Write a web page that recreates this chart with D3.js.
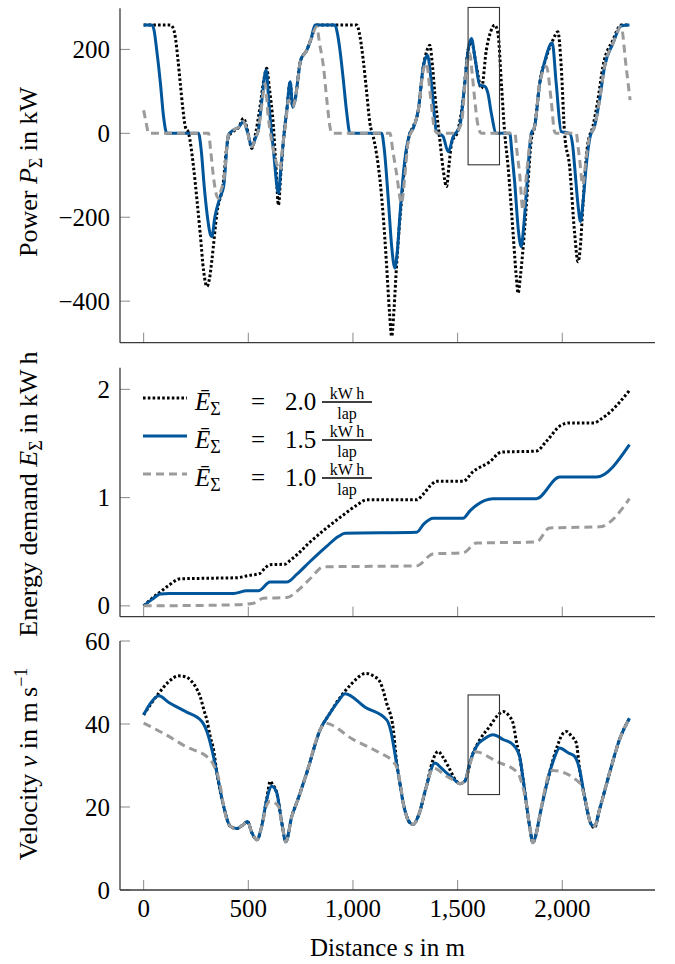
<!DOCTYPE html>
<html><head><meta charset="utf-8">
<script src="https://cdn.jsdelivr.net/npm/d3@7/dist/d3.min.js"></script>
<style>
body{margin:0;background:#fff}
svg text{fill:#000}
</style>
</head><body>
<svg id="chart" width="675" height="964"></svg>
<script>
// ---------- data (distance s in m, value) ----------
const power20 = [[0,258],[127,258],[140,252],[151,230],[163,180],[175,119],[187,60],[199,16],[215,0],[238,-79],[255,-160],[270,-238],[287,-330],[302,-365],[315,-345],[326,-302],[350,-190],[382,-111],[395,-40],[405,-8],[430,5],[455,15],[477,36],[495,10],[517,-36],[535,0],[555,60],[575,130],[588,155],[600,110],[620,16],[632,-80],[644,-171],[656,-90],[668,-16],[685,60],[700,123],[712,63],[723,79],[750,174],[779,198],[800,225],[827,258],[1018,258],[1030,240],[1049,175],[1065,100],[1081,24],[1097,-8],[1113,-50],[1129,-111],[1145,-200],[1161,-317],[1175,-430],[1185,-484],[1196,-420],[1208,-317],[1232,-159],[1256,-40],[1272,0],[1288,16],[1312,55],[1336,159],[1352,195],[1367,210],[1380,160],[1391,95],[1415,-16],[1432,-90],[1447,-127],[1460,-70],[1471,-24],[1502,8],[1526,79],[1550,198],[1566,218],[1590,159],[1614,107],[1637,198],[1660,245],[1677,258],[1693,238],[1709,119],[1725,0],[1741,-79],[1765,-238],[1780,-340],[1789,-381],[1800,-340],[1812,-278],[1836,-119],[1852,-16],[1868,16],[1892,119],[1924,182],[1955,222],[1979,242],[1995,159],[2011,0],[2035,-79],[2059,-238],[2075,-306],[2088,-260],[2098,-175],[2122,-24],[2146,16],[2170,79],[2194,159],[2242,222],[2281,258],[2321,258]];
const power15 = [[0,258],[40,258],[50,245],[62,200],[80,120],[95,40],[111,0],[262,0],[275,-40],[290,-130],[305,-200],[318,-240],[326,-246],[340,-200],[366,-151],[382,-127],[405,-4],[430,8],[455,15],[477,28],[495,5],[517,-32],[535,-10],[548,8],[565,80],[580,143],[585,151],[600,60],[620,-40],[644,-143],[656,-80],[668,-16],[685,60],[700,123],[712,63],[723,79],[750,174],[779,198],[800,225],[819,258],[914,258],[925,240],[940,190],[954,127],[970,50],[986,0],[1137,0],[1150,-40],[1169,-159],[1185,-270],[1200,-321],[1212,-280],[1224,-198],[1248,-63],[1272,0],[1288,12],[1312,55],[1336,159],[1356,186],[1375,119],[1399,4],[1431,-8],[1455,-44],[1479,-8],[1510,16],[1534,119],[1550,198],[1566,226],[1582,183],[1606,115],[1630,112],[1645,95],[1661,48],[1685,0],[1749,0],[1760,-50],[1773,-119],[1790,-230],[1804,-270],[1816,-220],[1828,-143],[1852,0],[1868,16],[1892,119],[1916,171],[1952,216],[1971,119],[1995,4],[2035,0],[2050,-30],[2059,-79],[2075,-170],[2087,-210],[2100,-160],[2114,-79],[2133,-8],[2154,16],[2178,79],[2202,159],[2242,214],[2281,256],[2321,258]];
const power10 = [[0,55],[12,25],[24,0],[310,0],[320,-40],[335,-110],[350,-150],[358,-155],[370,-135],[382,-115],[405,-4],[430,8],[455,15],[477,28],[495,5],[517,-32],[535,-10],[548,8],[565,70],[580,119],[595,40],[620,-40],[652,-87],[662,-40],[680,30],[692,79],[712,63],[723,79],[750,174],[779,198],[800,225],[827,254],[840,215],[859,159],[875,80],[890,16],[898,0],[1177,0],[1190,-40],[1208,-95],[1232,-167],[1248,-100],[1265,-15],[1288,12],[1312,55],[1336,150],[1351,167],[1370,90],[1391,8],[1407,0],[1486,0],[1518,24],[1542,159],[1558,190],[1570,140],[1582,79],[1595,25],[1606,4],[1615,0],[1773,0],[1785,-50],[1796,-95],[1812,-183],[1825,-120],[1836,-63],[1852,0],[1868,16],[1892,119],[1924,159],[1947,79],[1963,4],[1970,0],[2067,0],[2075,-30],[2083,-63],[2098,-123],[2114,-60],[2130,-8],[2154,16],[2178,79],[2202,159],[2242,214],[2281,254],[2305,159],[2324,79]];

const energy20 = [[0,0],[40,0.07],[80,0.13],[120,0.19],[175,0.25],[300,0.255],[445,0.26],[500,0.28],[556,0.30],[580,0.35],[604,0.38],[676,0.385],[700,0.42],[731,0.47],[795,0.59],[874,0.72],[954,0.84],[1018,0.93],[1065,0.98],[1304,0.98],[1335,1.03],[1370,1.11],[1399,1.15],[1526,1.15],[1574,1.24],[1653,1.33],[1709,1.42],[1876,1.43],[1924,1.52],[1995,1.67],[2035,1.69],[2154,1.69],[2180,1.72],[2210,1.76],[2321,1.99]];
const energy15 = [[0,0],[40,0.06],[80,0.11],[120,0.115],[429,0.115],[493,0.14],[548,0.14],[604,0.22],[684,0.22],[731,0.29],[795,0.41],[874,0.55],[930,0.64],[962,0.67],[1304,0.68],[1340,0.76],[1383,0.81],[1526,0.81],[1560,0.88],[1590,0.93],[1669,0.99],[1876,0.99],[1987,1.19],[2162,1.19],[2321,1.49]];
const energy10 = [[0,0],[445,0.01],[525,0.025],[572,0.07],[684,0.077],[747,0.16],[800,0.26],[859,0.36],[1304,0.37],[1383,0.48],[1526,0.49],[1590,0.58],[1876,0.59],[1939,0.72],[2178,0.73],[2321,0.99]];

const velocity20 = [[0,42.2],[30,44.5],[72,47.4],[120,50.2],[167,51.6],[200,51.4],[223,50.6],[250,48.8],[270,46.6],[290,43],[302,41],[318,37],[334,33.8],[350,28.2],[382,20.2],[413,15.4],[445,14.8],[477,15.8],[496,16.5],[517,13.8],[541,12.1],[564,15.4],[588,22],[605,26.2],[615,25.5],[636,23.4],[660,16.2],[679,11.6],[708,17.8],[731,21],[779,28.2],[843,38.6],[890,42.6],[940,46.5],[990,49.5],[1062,52.2],[1100,51.5],[1129,50.2],[1161,45],[1193,38.6],[1208,31],[1222,26.5],[1240,21],[1272,16.2],[1288,15.8],[1312,17.8],[1351,25],[1380,31],[1407,33.4],[1430,32],[1455,29.8],[1490,26.5],[1510,25.6],[1534,26.2],[1570,32.5],[1606,36.2],[1653,39.4],[1690,42],[1717,43],[1745,42],[1765,40.2],[1780,36],[1796,32.2],[1812,27],[1828,21],[1845,15],[1860,11.4],[1875,13.5],[1892,17.8],[1939,28.2],[1975,34.5],[2000,37.5],[2019,38.2],[2045,37],[2067,35.4],[2083,29],[2106,22.6],[2138,15.8],[2154,15],[2178,19.4],[2226,28.2],[2273,36.2],[2321,41.4]];
const velocity15 = [[0,42.2],[30,44.8],[72,46.8],[120,45.2],[200,43],[278,40.6],[310,37],[330,33],[350,28.2],[382,20.2],[413,15.4],[445,14.8],[477,15.8],[496,16.5],[517,13.8],[541,12.1],[564,15.4],[588,21.8],[612,25],[636,23.4],[660,16.2],[679,11.6],[708,17.8],[731,21],[779,28.2],[843,38.6],[890,42.6],[930,45.5],[962,47.3],[1060,44],[1161,41],[1180,38.5],[1200,33],[1220,27],[1240,21],[1272,16.2],[1288,15.8],[1312,17.8],[1351,25],[1391,30.6],[1420,29.5],[1447,28.2],[1480,26.8],[1510,25.6],[1534,26.2],[1560,31],[1590,34.6],[1630,36.5],[1669,37.4],[1720,36.2],[1765,35],[1796,32.2],[1812,27],[1828,21],[1845,15],[1860,11.4],[1875,13.5],[1892,17.8],[1939,28.2],[1960,31.5],[1987,34.2],[2030,33],[2059,32.2],[2083,29],[2106,22.6],[2138,15.8],[2154,15.4],[2178,19.4],[2226,28.2],[2273,36.2],[2321,41.4]];
const velocity10 = [[0,40.2],[100,37.6],[200,34.6],[318,31.4],[340,29.5],[355,27.5],[370,24],[382,20.2],[413,15.4],[445,14.8],[477,15.8],[496,16.5],[517,13.8],[541,12.1],[564,15.4],[588,20.5],[604,21.4],[644,20.2],[660,16.2],[679,11.6],[708,17.8],[731,21],[779,28.2],[843,38.6],[867,40.2],[1000,36.3],[1129,33],[1190,31],[1210,29.5],[1225,26],[1240,21],[1272,16.2],[1288,15.8],[1312,17.8],[1351,25],[1383,29.4],[1447,27.4],[1480,26.5],[1510,25.6],[1534,26.2],[1560,30.5],[1585,33.3],[1685,31],[1788,28.2],[1805,26],[1828,21],[1845,15],[1860,11.4],[1875,13.5],[1892,17.8],[1939,28.2],[1955,28.8],[2083,25.8],[2106,22.6],[2138,15.8],[2154,15.4],[2178,19.4],[2226,28.2],[2273,36.2],[2321,41.4]];

const xTicks = [0, 500, 1000, 1500, 2000];
const powerTicks = [-400, -200, 0, 200];
const energyTicks = [0, 1, 2];
const velocityTicks = [0, 20, 40, 60];
const legendValues = ["2.0", "1.5", "1.0"];
// zoom boxes [s0, s1, y0, y1]
const powerBox = [1550, 1700, -75, 300];
const velocityBox = [1550, 1700, 23, 47];

// ---------- drawing ----------
const FONT = '"Liberation Serif", "Tinos", "Times New Roman", Times, "DejaVu Serif", "Noto Serif", "FreeSerif", "Nimbus Roman", serif';
const svg = d3.select("#chart");
const L = 120, R = 655;
const x = d3.scaleLinear().domain([-113, 2443]).range([L, R]);

const styles = [
  {stroke: "#000", width: 3, dash: "2.6 2.2"},
  {stroke: "#00569b", width: 3, dash: null},
  {stroke: "#9b9b9b", width: 3, dash: "8 5"}
];

const panels = [
  {top: 8.3, bottom: 342.7, domain: [-499, 298], ticks: powerTicks, series: [power20, power15, power10], box: powerBox},
  {top: 367.7, bottom: 616.7, domain: [-0.1, 2.2], ticks: energyTicks, series: [energy20, energy15, energy10], box: null},
  {top: 641, bottom: 890, domain: [0, 60], ticks: velocityTicks, series: [velocity20, velocity15, velocity10], box: velocityBox}
];

const fmt = d3.format(",");

function txt(sel) { return sel.append("text").style("font-family", FONT); }

panels.forEach((p, i) => {
  const y = d3.scaleLinear().domain(p.domain).range([p.bottom, p.top]);
  const g = svg.append("g");
  const clipId = "clip" + i;
  svg.append("clipPath").attr("id", clipId).append("rect")
    .attr("x", L).attr("y", p.top - 2).attr("width", R - L).attr("height", p.bottom - p.top + 2);

  g.selectAll(".yt").data(p.ticks).enter().append("line")
    .attr("x1", L).attr("x2", L + 10).attr("y1", d => y(d)).attr("y2", d => y(d))
    .attr("stroke", "#8a8a8a").attr("stroke-width", 1);
  g.selectAll(".xt").data(xTicks).enter().append("line")
    .attr("x1", d => x(d)).attr("x2", d => x(d)).attr("y1", p.bottom).attr("y2", p.bottom - 10)
    .attr("stroke", "#8a8a8a").attr("stroke-width", 1);

  g.selectAll(".yl").data(p.ticks).enter().append("text")
    .style("font-family", FONT)
    .attr("x", 110).attr("y", d => y(d)).attr("dy", "0.34em")
    .attr("text-anchor", "end").attr("font-size", 25)
    .text(d => fmt(d));

  const line = d3.line().x(d => x(d[0])).y(d => y(d[1])).curve(d3.curveMonotoneX);
  const lg = g.append("g").attr("clip-path", `url(#${clipId})`);
  p.series.forEach((s, k) => {
    const st = styles[k];
    lg.append("path").datum(s).attr("d", line)
      .attr("fill", "none").attr("stroke", st.stroke).attr("stroke-width", st.width)
      .attr("stroke-linejoin", "round")
      .attr("stroke-dasharray", st.dash);
  });

  if (p.box) {
    const b = p.box;
    g.append("rect").attr("x", x(b[0])).attr("y", y(b[3]))
      .attr("width", x(b[1]) - x(b[0])).attr("height", y(b[2]) - y(b[3]))
      .attr("fill", "none").attr("stroke", "#333").attr("stroke-width", 1.1);
  }

  g.append("line").attr("x1", L).attr("x2", L).attr("y1", p.top).attr("y2", p.bottom)
    .attr("stroke", "#3a3a3a").attr("stroke-width", 1.3);
  g.append("line").attr("x1", L).attr("x2", R).attr("y1", p.bottom).attr("y2", p.bottom)
    .attr("stroke", "#3a3a3a").attr("stroke-width", 1.3);
});

svg.selectAll(".xl").data(xTicks).enter().append("text")
  .style("font-family", FONT)
  .attr("x", d => x(d)).attr("y", 917).attr("text-anchor", "middle").attr("font-size", 25)
  .text(d => fmt(d));

{
  const t = txt(svg).attr("x", (L + R) / 2).attr("y", 956).attr("text-anchor", "middle").attr("font-size", 25);
  t.append("tspan").text("Distance ");
  t.append("tspan").attr("font-style", "italic").text("s");
  t.append("tspan").text(" in m");
}

function yLabel(cy, parts) {
  const t = txt(svg).attr("transform", `translate(37,${cy}) rotate(-90)`)
    .attr("text-anchor", "middle").attr("font-size", 26);
  parts.forEach(pt => {
    const ts = t.append("tspan").text(pt.t);
    if (pt.i) ts.attr("font-style", "italic");
    if (pt.sub) ts.attr("font-size", 18).attr("dy", 5);
    if (pt.sup) ts.attr("font-size", 18).attr("dy", -10);
    if (pt.back) ts.attr("dy", pt.back);
  });
}
yLabel(172, [{t: "Power "}, {t: "P", i: 1}, {t: "Σ", sub: 1}, {t: " in kW", back: -5}]);
yLabel(494, [{t: "Energy demand "}, {t: "E", i: 1}, {t: "Σ", sub: 1}, {t: " in kW\u2009h", back: -5}]);
yLabel(764, [{t: "Velocity "}, {t: "v", i: 1}, {t: " in m\u2009s"}, {t: "−1", sup: 1}]);

const legendLineY = [398, 436, 474];
legendValues.forEach((v, k) => {
  const st = styles[k];
  const ly = legendLineY[k];
  svg.append("line").attr("x1", 143).attr("x2", 187).attr("y1", ly).attr("y2", ly)
    .attr("stroke", st.stroke).attr("stroke-width", st.width).attr("stroke-dasharray", st.dash);
  const base = ly + 12;
  const t = txt(svg).attr("x", 195).attr("y", base).attr("font-size", 25);
  t.append("tspan").attr("font-style", "italic").text("Ē");
  t.append("tspan").attr("font-size", 18).attr("dy", 5).text("Σ");
  txt(svg).attr("x", 258).attr("y", base).attr("text-anchor", "middle").attr("font-size", 25).text("=");
  txt(svg).attr("x", 285).attr("y", base).attr("font-size", 25).text(v);
  svg.append("line").attr("x1", 322).attr("x2", 372).attr("y1", base - 8).attr("y2", base - 8)
    .attr("stroke", "#000").attr("stroke-width", 1.3);
  txt(svg).attr("x", 347).attr("y", base - 11).attr("text-anchor", "middle").attr("font-size", 16).text("kW\u2009h");
  txt(svg).attr("x", 347).attr("y", base + 9).attr("text-anchor", "middle").attr("font-size", 16).text("lap");
});
</script>
</body></html>
